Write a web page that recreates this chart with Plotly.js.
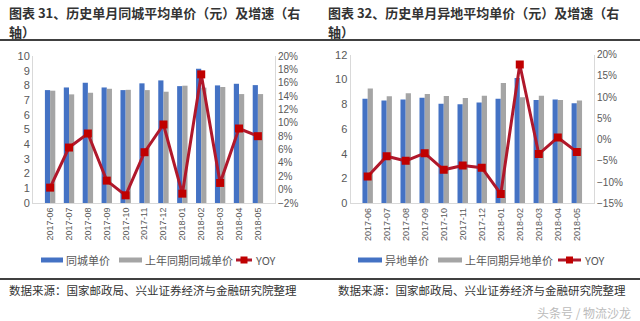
<!DOCTYPE html>
<html><head><meta charset="utf-8">
<script src="https://cdn.plot.ly/plotly-3.0.1.min.js"></script>
<style>html,body{margin:0;padding:0;background:#fff;}#c{width:640px;height:321px;}</style>
</head><body><div id="c"></div>
<script>
const months = ['2017-06','2017-07','2017-08','2017-09','2017-10','2017-11','2017-12','2018-01','2018-02','2018-03','2018-04','2018-05'];
// Chart 31: same-city
const localPrice     = [7.68, 7.86, 8.18, 7.86, 7.68, 8.14, 8.34, 7.95, 9.14, 8.00, 8.11, 8.02];
const localPricePrev = [7.64, 7.39, 7.50, 7.77, 7.70, 7.68, 7.57, 7.98, 7.85, 7.89, 7.41, 7.41];
const localYoy       = [0.3, 6.3, 8.4, 1.35, -0.85, 5.6, 9.75, -0.6, 17.25, 1.0, 9.15, 8.0];
// Chart 32: inter-city
const remotePrice     = [8.45, 8.31, 8.39, 8.53, 8.04, 7.99, 8.15, 8.45, 10.12, 8.34, 8.39, 8.07];
const remotePricePrev = [9.28, 8.64, 8.88, 8.82, 8.66, 8.50, 8.69, 9.71, 8.56, 8.69, 8.34, 8.31];
const remoteYoy       = [-8.7, -3.9, -5.0, -3.2, -7.1, -6.1, -6.6, -12.8, 17.7, -3.4, 0.5, -2.9];
const titles = [['图表 31、历史单月同城平均单价（元）及增速（右', '轴）'], ['图表 32、历史单月异地平均单价（元）及增速（右', '轴）']];
const sourceText = '数据来源：国家邮政局、兴业证券经济与金融研究院整理';

const BLUE='#4472C4', GRAY='#A5A5A5', RED='#C00000', LRED='#B0182B';
const tickC='#595959', lineC='#D9D9D9';
const cjk='"Noto Sans CJK SC", "Noto Sans", sans-serif';
const num='"Liberation Sans", Arial, sans-serif';

const traces = [
  {type:'bar', x:months, y:localPrice, name:'同城单价', marker:{color:BLUE}, xaxis:'x', yaxis:'y', showlegend:false},
  {type:'bar', x:months, y:localPricePrev, name:'上年同期同城单价', marker:{color:GRAY}, xaxis:'x', yaxis:'y', showlegend:false},
  {type:'scatter', mode:'lines+markers', x:months, y:localYoy, name:'YOY', line:{color:LRED, width:3}, marker:{symbol:'square', size:8, color:RED}, xaxis:'x', yaxis:'y2', showlegend:false},
  {type:'bar', x:months, y:remotePrice, name:'异地单价', marker:{color:BLUE}, xaxis:'x3', yaxis:'y3', showlegend:false},
  {type:'bar', x:months, y:remotePricePrev, name:'上年同期异地单价', marker:{color:GRAY}, xaxis:'x3', yaxis:'y3', showlegend:false},
  {type:'scatter', mode:'lines+markers', x:months, y:remoteYoy, name:'YOY', line:{color:LRED, width:3}, marker:{symbol:'square', size:8, color:RED}, xaxis:'x3', yaxis:'y4', showlegend:false}
];

const W=640, H=321;
const px = v => v/W, py = v => 1 - v/H;

const xCommon = {type:'category', tickangle:-90, tickfont:{family:num, size:9, color:tickC}, showline:true, linecolor:lineC, linewidth:1, ticks:'', showgrid:false, zeroline:false, fixedrange:true};
const yCommon = {showgrid:false, zeroline:false, showline:true, linecolor:lineC, linewidth:1, ticks:'', tickfont:{family:num, size:11, color:tickC}, fixedrange:true};
const y2Common = {showgrid:false, zeroline:false, showline:true, linecolor:lineC, linewidth:1, ticks:'', tickfont:{family:num, size:10, color:tickC}, fixedrange:true, ticksuffix:'%'};

const shapes = [
  {type:'line', xref:'paper', yref:'paper', x0:0, x1:1, y0:py(40), y1:py(40), line:{color:'#404040', width:2}},
  {type:'line', xref:'paper', yref:'paper', x0:0, x1:1, y0:py(279), y1:py(279), line:{color:'#404040', width:2}}
];
const annotations = [];
[[7, titles[0]], [326, titles[1]]].forEach(([x, t]) => {
  annotations.push({xref:'paper', yref:'paper', x:px(x), y:py(12), xanchor:'left', yanchor:'middle', showarrow:false,
    text:'<b>'+t[0]+'</b>', font:{family:cjk, size:13, color:'#333'}});
  annotations.push({xref:'paper', yref:'paper', x:px(x), y:py(31), xanchor:'left', yanchor:'middle', showarrow:false,
    text:'<b>'+t[1]+'</b>', font:{family:cjk, size:13, color:'#333'}});
});
annotations.push(
  {xref:'paper', yref:'paper', x:px(7), y:py(290), xanchor:'left', yanchor:'middle', showarrow:false,
   text:sourceText, font:{family:cjk, size:11.5, color:'#333'}},
  {xref:'paper', yref:'paper', x:px(336), y:py(290), xanchor:'left', yanchor:'middle', showarrow:false,
   text:sourceText, font:{family:cjk, size:11.5, color:'#333'}},
  {xref:'paper', yref:'paper', x:px(633), y:py(312), xanchor:'right', yanchor:'middle', showarrow:false,
   text:'头条号 / 物流沙龙', font:{family:cjk, size:12, color:'#BBBBBB'}}
);

// manual legends
function legendItem(x0, x1, color, label, isLine){
  if(isLine){
    shapes.push({type:'line', xref:'paper', yref:'paper', x0:px(x0), x1:px(x1), y0:py(260), y1:py(260), line:{color:LRED, width:3}});
    const xm=(x0+x1)/2;
    shapes.push({type:'rect', xref:'paper', yref:'paper', x0:px(xm-3.5), x1:px(xm+3.5), y0:py(263.5), y1:py(256.5), line:{width:0}, fillcolor:RED});
  } else {
    shapes.push({type:'rect', xref:'paper', yref:'paper', x0:px(x0), x1:px(x1), y0:py(262.5), y1:py(257.5), line:{width:0}, fillcolor:color});
  }
  annotations.push({xref:'paper', yref:'paper', x:px(x1+1), y:py(260), xanchor:'left', yanchor:'middle', showarrow:false,
    text:label, font:{family:cjk, size:11, color:tickC}});
}
legendItem(41, 63, BLUE, '同城单价');
legendItem(119, 142, GRAY, '上年同期同城单价');
legendItem(236, 252, RED, 'YOY', true);
legendItem(358, 382, BLUE, '异地单价');
legendItem(438, 462, GRAY, '上年同期异地单价');
legendItem(558, 581, RED, 'YOY', true);

const layout = {
  width:W, height:H, margin:{l:0,r:0,t:0,b:0}, paper_bgcolor:'#fff', plot_bgcolor:'#fff',
  barmode:'group', bargap:0.45, bargroupgap:0, showlegend:false,
  xaxis: Object.assign({}, xCommon, {domain:[px(33), px(275)], anchor:'y'}),
  yaxis: Object.assign({}, yCommon, {domain:[py(203), py(56)], range:[0,10], dtick:1, anchor:'x'}),
  yaxis2: Object.assign({}, y2Common, {overlaying:'y', side:'right', anchor:'x', range:[-2,20], dtick:2}),
  xaxis3: Object.assign({}, xCommon, {domain:[px(350.5), px(594)], anchor:'y3'}),
  yaxis3: Object.assign({}, yCommon, {domain:[py(203.3), py(54.7)], range:[0,12], dtick:2, anchor:'x3'}),
  yaxis4: Object.assign({}, y2Common, {overlaying:'y3', side:'right', anchor:'x3', range:[-15,20], dtick:5}),
  shapes: shapes, annotations: annotations
};
Plotly.newPlot('c', traces, layout, {displayModeBar:false, staticPlot:true});
</script></body></html>
